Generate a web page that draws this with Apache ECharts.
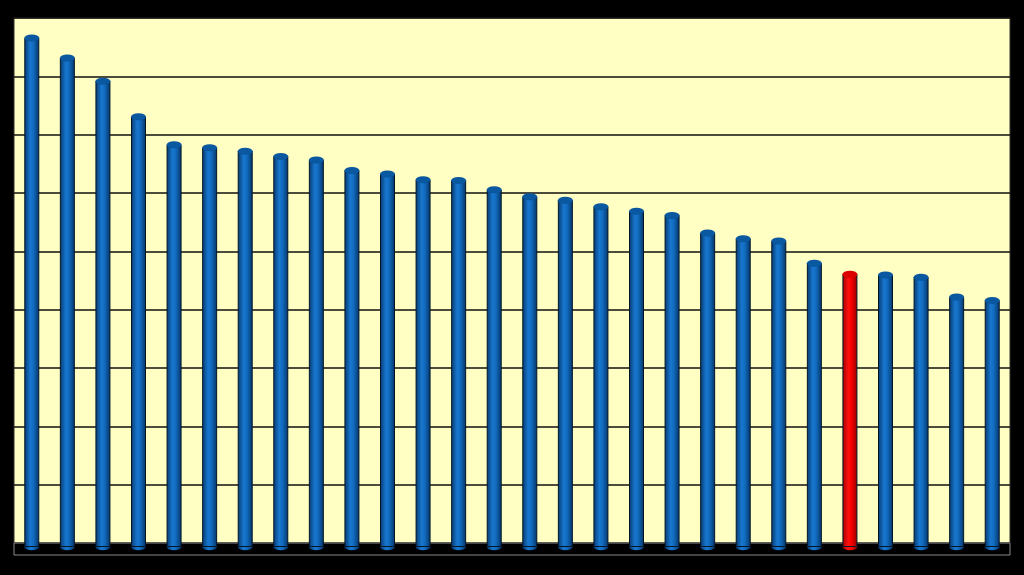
<!DOCTYPE html>
<html>
<head>
<meta charset="utf-8">
<script src="https://cdn.jsdelivr.net/npm/echarts@6/dist/echarts.min.js"></script>
<style>
html,body{margin:0;padding:0;background:#000;}
#chart{width:1024px;height:575px;}
</style>
</head>
<body>
<div id="chart"></div>
<script>
const categories = ['1','2','3','4','5','6','7','8','9','10','11','12','13','14','15','16','17','18','19','20','21','22','23','24','25','26','27','28'];
const values = [8.73, 8.39, 7.99, 7.38, 6.90, 6.85, 6.79, 6.70, 6.64, 6.46, 6.40, 6.30, 6.29, 6.13, 6.01, 5.95, 5.84, 5.76, 5.69, 5.39, 5.29, 5.25, 4.87, 4.68, 4.67, 4.63, 4.29, 4.23];
const highlightIndex = 23;
const yTicks = [0, 1, 2, 3, 4, 5, 6, 7, 8, 9];

const blueBody = new echarts.graphic.LinearGradient(0, 0, 1, 0, [
  {offset: 0, color: '#06386c'},
  {offset: 0.4, color: '#1877cf'},
  {offset: 0.6, color: '#126cc0'},
  {offset: 1, color: '#053467'}
]);
const redBody = new echarts.graphic.LinearGradient(0, 0, 1, 0, [
  {offset: 0, color: '#a00000'},
  {offset: 0.4, color: '#ff1010'},
  {offset: 0.6, color: '#f50000'},
  {offset: 1, color: '#940000'}
]);
const blueTop = '#0a58a0';
const redTop = '#dd0000';

const bodyData = values.map((v, i) => ({
  value: v,
  itemStyle: {color: i === highlightIndex ? redBody : blueBody}
}));
const topData = values.map((v, i) => ({
  value: v,
  itemStyle: {color: i === highlightIndex ? redTop : blueTop}
}));
const bottomData = values.map((v, i) => ({
  value: v,
  itemStyle: {color: i === highlightIndex ? redBody : blueBody}
}));

const chart = echarts.init(document.getElementById('chart'));
chart.setOption({
  backgroundColor: '#000',
  animation: false,
  graphic: [{
    type: 'rect',
    z: 1,
    shape: {x: 14, y: 543, width: 996, height: 12},
    style: {fill: '#000', stroke: '#8a8a8a', lineWidth: 1}
  }],
  grid: [
    {left: 14, right: 14, top: 18, bottom: 32, show: true, backgroundColor: '#ffffc4', borderColor: '#333', borderWidth: 1},
    {left: 14, right: 14, top: 22, bottom: 28}
  ],
  xAxis: [
    {type: 'category', gridIndex: 0, data: categories, axisLine: {show: false}, axisTick: {show: false}, axisLabel: {show: false}},
    {type: 'category', gridIndex: 1, data: categories, axisLine: {show: false}, axisTick: {show: false}, axisLabel: {show: false}}
  ],
  yAxis: [
    {type: 'value', gridIndex: 0, min: yTicks[0], max: yTicks[yTicks.length - 1], interval: 1,
     axisLine: {show: false}, axisTick: {show: false}, axisLabel: {show: false},
     splitLine: {show: true, lineStyle: {color: '#111', width: 1.6}}},
    {type: 'value', gridIndex: 1, min: yTicks[0], max: yTicks[yTicks.length - 1], interval: 1,
     axisLine: {show: false}, axisTick: {show: false}, axisLabel: {show: false}, splitLine: {show: false}}
  ],
  series: [
    {
      type: 'pictorialBar', xAxisIndex: 1, yAxisIndex: 1, data: bottomData,
      symbol: 'circle', symbolSize: [15, 7], symbolPosition: 'start', symbolOffset: [0, '50%'],
      itemStyle: {borderColor: '#041a30', borderWidth: 0.8},
      z: 3
    },
    {
      type: 'bar', xAxisIndex: 1, yAxisIndex: 1, data: bodyData, barWidth: 15,
      itemStyle: {borderColor: '#031628', borderWidth: 1},
      z: 4
    },
    {
      type: 'pictorialBar', xAxisIndex: 1, yAxisIndex: 1, data: topData,
      symbol: 'circle', symbolSize: [15, 7], symbolPosition: 'end', symbolOffset: [0, '-50%'],
      itemStyle: {borderColor: '#02101e', borderWidth: 1},
      z: 5
    }
  ]
});
</script>
</body>
</html>
